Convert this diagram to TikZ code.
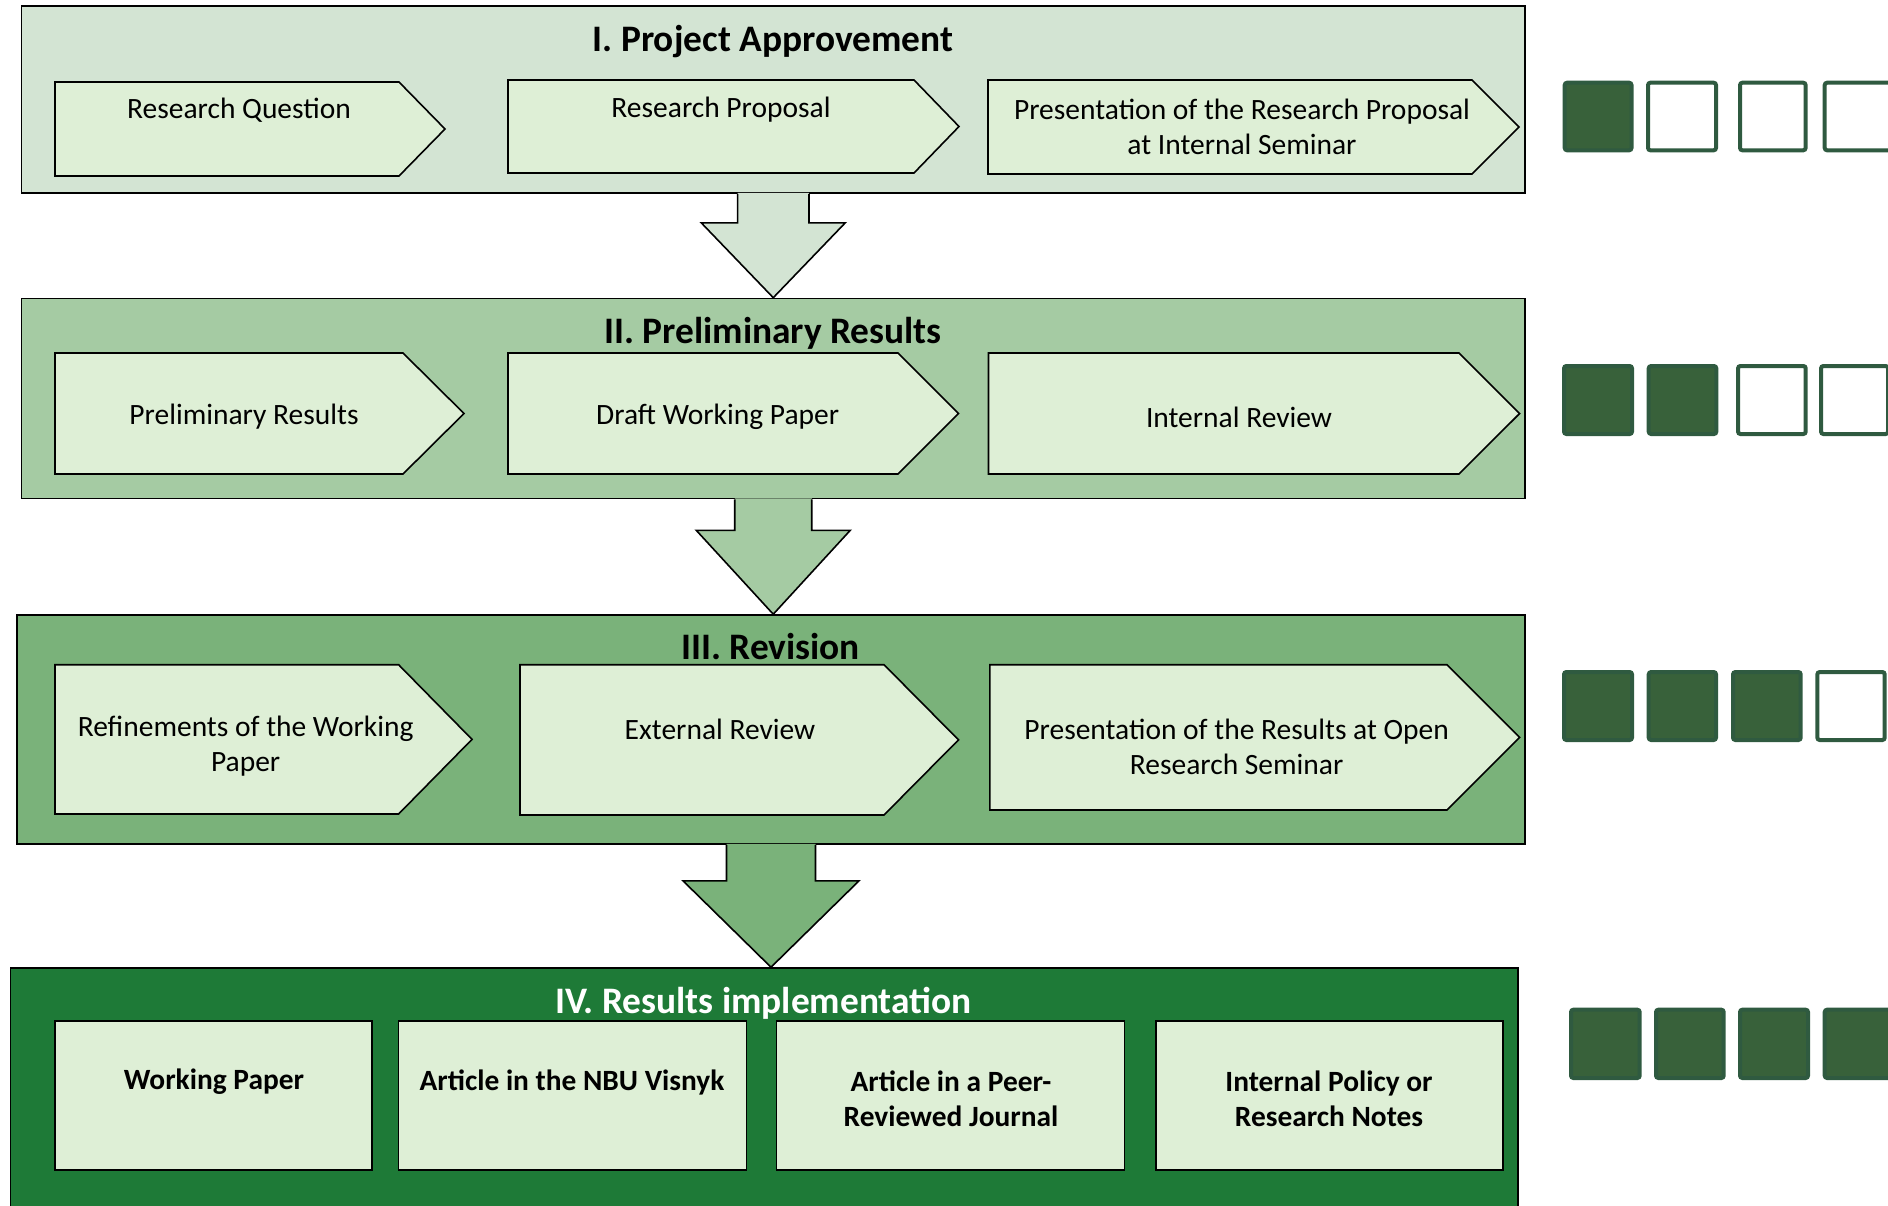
\documentclass[tikz,border=0pt]{standalone}
\usepackage{fontspec}
\setmainfont{Carlito}
\usetikzlibrary{calc}
\definecolor{pA}{HTML}{D3E4D3}
\definecolor{pB}{HTML}{A5CBA3}
\definecolor{pC}{HTML}{7AB27A}
\definecolor{pD}{HTML}{1E7A37}
\definecolor{bx}{HTML}{DEEFD6}
\definecolor{sqf}{HTML}{38613A}
\definecolor{sqd}{HTML}{2F5A40}
\newcommand\mychev[6]{% name, x1, y1, x2, xt, y2
  \draw[chevbox] (#2,#3) -- (#4,#3) -- (#5,{(#3+#6)/2}) -- (#4,#6) -- (#2,#6) -- cycle;}
\newcommand\bigarr[6]{% upper node, lower node, shaft half, head half, shoulder drop, fill
  \fill[#6] ($(#1.south)+(-#3,-1)$) -- ($(#1.south)+(-#3,#5)$) -- ($(#1.south)+(-#4,#5)$)
     -- (#2.north -| #1.south) -- ($(#1.south)+(#4,#5)$) -- ($(#1.south)+(#3,#5)$)
     -- ($(#1.south)+(#3,-1)$) -- cycle;
  \draw[thinline] (#1.south) ++(-#3,0) -- ($(#1.south)+(-#3,#5)$) -- ($(#1.south)+(-#4,#5)$)
     -- (#2.north -| #1.south) -- ($(#1.south)+(#4,#5)$) -- ($(#1.south)+(#3,#5)$)
     -- ($(#1.south)+(#3,0)$);}
\newcommand\sq[5]{% x1 y1 x2 y2 style
  \draw[#5] ({#1+2},{#2+2}) rectangle ({#3-2},{#4-2});}
\begin{document}
\begin{tikzpicture}[x=0.5pt,y=-0.5pt,
  thinline/.style={draw=black, line width=0.8pt},
  panel/.style={draw=black, line width=0.8pt, rectangle, inner sep=0pt, anchor=center},
  chevbox/.style={draw=black, fill=bx, line width=0.8pt},
  lbl/.style={font=\fontsize{14.75}{17.5}\selectfont, align=center, inner sep=0pt},
  ttl/.style={font=\bfseries\fontsize{18.7}{22}\selectfont, inner sep=0pt},
  blbl/.style={font=\bfseries\fontsize{14.7}{17.5}\selectfont, align=center, inner sep=0pt},
  sqon/.style={draw=sqd, fill=sqf, line width=2pt, rounded corners=1.2pt},
  sqoff/.style={draw=sqd, fill=white, line width=2pt, rounded corners=1.2pt}]
\useasboundingbox (0,0) rectangle (1888,1205);
\clip (0,0) rectangle (1888,1205);

% panels
\node[panel, fill=pA, minimum width=751.75pt, minimum height=93.5pt] (P1) at (773.25,99.5) {};
\node[panel, fill=pB, minimum width=751.75pt, minimum height=100pt] (P2) at (773.25,398.5) {};
\node[panel, fill=pC, minimum width=754pt, minimum height=114.5pt] (P3) at (771,729.5) {};
\node[panel, fill=pD, minimum width=753.75pt, minimum height=131pt] (P4) at (764.25,1099) {};

% big arrows
\bigarr{P1}{P2}{35.7}{72}{29}{pA}
\bigarr{P2}{P3}{38.5}{77}{31}{pB}
\bigarr{P3}{P4}{44.5}{88}{36}{pC}

% titles
\node[ttl] (T1) at (773,42) {I. Project Approvement};
\node[ttl] (T2) at (773,333.5) {II. Preliminary Results};
\node[ttl] (T3) at (770.6,647) {III. Revision};
\node[ttl, text=white] (T4) at (763.4,1003) {IV. Results implementation};

% stage I
\mychev{a1}{55}{82}{399}{445}{176}
\mychev{a2}{508}{80}{914}{959}{173}
\mychev{a3}{988}{80}{1472}{1519}{174}
\node[lbl] (A1) at (239,110.5) {Research Question};
\node[lbl] (A2) at (721,110) {Research Proposal};
\node[lbl] (A3) at (1242,127) {Presentation of the Research Proposal\\at Internal Seminar};

% stage II
\mychev{b1}{55}{353}{403}{464}{474}
\mychev{b2}{508}{353}{898}{958.5}{474}
\mychev{b3}{988.5}{353}{1459}{1519.6}{474}
\node[lbl] (B1) at (244,417) {Preliminary Results};
\node[lbl] (B2) at (717.6,417) {Draft Working Paper};
\node[lbl] (B3) at (1239,417) {Internal Review};

% stage III
\mychev{c1}{55}{664.7}{398.6}{472}{814}
\mychev{c2}{520}{664.7}{884}{958.5}{815}
\mychev{c3}{989.8}{664.7}{1447}{1519.6}{810}
\node[lbl] (C1) at (245.6,746.5) {Refinements of the Working\\Paper};
\node[lbl] (C2) at (720,729) {External Review};
\node[lbl] (C3) at (1236.6,746.5) {Presentation of the Results at Open\\Research Seminar};

% stage IV
\draw[chevbox] (55,1021) rectangle (372,1170);
\draw[chevbox] (398.6,1021) rectangle (746.5,1170);
\draw[chevbox] (776.6,1021) rectangle (1124.6,1170);
\draw[chevbox] (1156,1021) rectangle (1502.7,1170);
\node[blbl] (D1) at (214,1082) {Working Paper};
\node[blbl] (D2) at (572,1082) {Article in the NBU Visnyk};
\node[blbl] (D3) at (951,1099) {Article in a Peer-\\Reviewed Journal};
\node[blbl] (D4) at (1329,1099) {Internal Policy or\\Research Notes};

% progress squares
\sq{1562.7}{80.7}{1633.5}{152.3}{sqon}
\sq{1646}{80.7}{1718}{152.3}{sqoff}
\sq{1738}{80.7}{1807.6}{152.3}{sqoff}
\sq{1822.7}{80.7}{1894}{152.3}{sqoff}

\sq{1562}{364}{1634}{436}{sqon}
\sq{1646.7}{364}{1718.3}{436}{sqon}
\sq{1736}{364}{1807.7}{436}{sqoff}
\sq{1819}{364}{1890}{436}{sqoff}

\sq{1562}{670}{1634}{742}{sqon}
\sq{1646.7}{670}{1718}{742}{sqon}
\sq{1731}{670}{1802.7}{742}{sqon}
\sq{1815.3}{670}{1886.7}{742}{sqoff}

\sq{1569}{1007.7}{1641.7}{1080}{sqon}
\sq{1654}{1007.7}{1725.7}{1080}{sqon}
\sq{1738}{1007.7}{1810}{1080}{sqon}
\sq{1822.7}{1007.7}{1894}{1080}{sqon}
\end{tikzpicture}
\end{document}
